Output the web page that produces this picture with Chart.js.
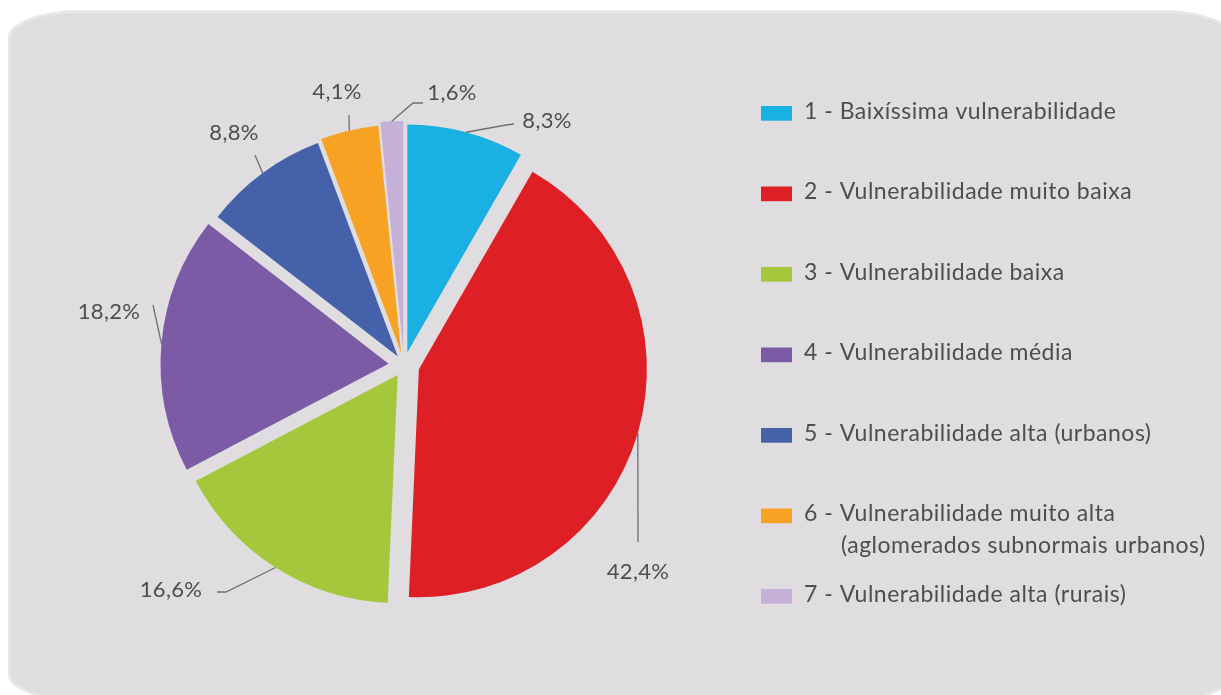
<!DOCTYPE html>
<html>
<head>
<meta charset="utf-8">
<script src="https://cdn.jsdelivr.net/npm/chart.js@4/dist/chart.umd.min.js"></script>
<style>
  html, body { margin: 0; padding: 0; background: #ffffff; width: 1221px; height: 695px; overflow: hidden; }
  #panel {
    position: absolute; left: 8px; top: 10px; width: 1226px; height: 692px;
    box-sizing: border-box; background: #dfdddf; border: 3px solid #e8e6e7;
    border-radius: 72px / 28px;
  }
  #wrap { position: absolute; left: 0; top: 0; width: 1221px; height: 695px; }
</style>
</head>
<body>
<div id="panel"></div>
<div id="wrap"><canvas id="pie"></canvas></div>
<script>
// Vulnerability classes (legend entries, multi-line where needed)
const categories = [
  '1 - Baixíssima vulnerabilidade',
  '2 - Vulnerabilidade muito baixa',
  '3 - Vulnerabilidade baixa',
  '4 - Vulnerabilidade média',
  '5 - Vulnerabilidade alta (urbanos)',
  ['6 - Vulnerabilidade muito alta', '(aglomerados subnormais urbanos)'],
  '7 - Vulnerabilidade alta (rurais)'
];

// Share of each class, in percent
const shares = [8.3, 42.4, 16.6, 18.2, 8.8, 4.1, 1.6];

// Slice colours
const colors = ['#1bb0e4', '#de1f26', '#a5c73b', '#7b5aa6', '#4561aa', '#f8a224', '#c5b1d7'];

// How far each slice is pulled out from the centre (px)
const explode = [12.9, 15.5, 11.8, 15.5, 10.4, 12.8, 16];

// Leader-line waypoints and label baseline position for each slice
const labelLayout = [
  { path: [[506, 125], [514, 124]], at: [547, 128] },
  { path: [[638, 542]],             at: [638, 579] },
  { path: [[226, 592], [217, 592]], at: [171, 597] },
  { path: [[153, 305]],             at: [109, 319] },
  { path: [[255, 155]],             at: [234, 140] },
  { path: [[349, 115]],             at: [337, 99] },
  { path: [[413, 103], [423, 103]], at: [452, 100] }
];

const FONT = 'Lato, "Open Sans", sans-serif';
const TEXT_COLOR = '#4e4e4e';
const LINE_COLOR = '#6f6f6f';

const fmtPct = v => v.toFixed(1).replace('.', ',') + '%';

// Draw each arc element pushed out along its bisector, keeping a common radius
const explodedSlices = {
  id: 'explodedSlices',
  beforeDatasetDraw(chart, args) {
    const ctx = chart.ctx;
    args.meta.data.forEach((arc, i) => {
      const mid = (arc.startAngle + arc.endAngle) / 2;
      ctx.save();
      ctx.translate(Math.cos(mid) * explode[i], Math.sin(mid) * explode[i]);
      arc.draw(ctx);
      ctx.restore();
    });
    return false;
  }
};

const sliceLabels = {
  id: 'sliceLabels',
  afterDatasetsDraw(chart) {
    const ctx = chart.ctx;
    const meta = chart.getDatasetMeta(0);
    ctx.save();
    ctx.strokeStyle = LINE_COLOR;
    ctx.lineWidth = 1.3;
    ctx.fillStyle = TEXT_COLOR;
    ctx.font = '22px ' + FONT;
    ctx.letterSpacing = '0.3px';
    ctx.textAlign = 'center';
    ctx.textBaseline = 'alphabetic';
    meta.data.forEach((arc, i) => {
      const mid = (arc.startAngle + arc.endAngle) / 2;
      const r = arc.outerRadius + explode[i];
      const ax = arc.x + Math.cos(mid) * r;
      const ay = arc.y + Math.sin(mid) * r;
      const lay = labelLayout[i];
      ctx.beginPath();
      ctx.moveTo(ax, ay);
      lay.path.forEach(p => ctx.lineTo(p[0], p[1]));
      ctx.stroke();
      ctx.fillText(fmtPct(shares[i]), lay.at[0], lay.at[1]);
    });
    ctx.restore();
  }
};

const sideLegend = {
  id: 'sideLegend',
  afterDraw(chart) {
    const ctx = chart.ctx;
    const x0 = 761, firstBaseline = 118.7, step = 80.5, lineGap = 32;
    ctx.save();
    ctx.font = '23px ' + FONT;
    ctx.letterSpacing = '0.5px';
    ctx.textAlign = 'left';
    ctx.textBaseline = 'alphabetic';
    categories.forEach((label, i) => {
      const base = firstBaseline + i * step;
      ctx.fillStyle = colors[i];
      ctx.fillRect(x0, base - 12.7, 31, 14.7);
      ctx.fillStyle = TEXT_COLOR;
      const lines = Array.isArray(label) ? label : [label];
      lines.forEach((ln, k) => {
        ctx.fillText(ln, k === 0 ? 804 : 841, base + k * lineGap);
      });
    });
    ctx.restore();
  }
};

new Chart(document.getElementById('pie'), {
  type: 'pie',
  data: {
    labels: categories,
    datasets: [{
      data: shares,
      backgroundColor: colors,
      borderWidth: 0,
      offset: 0,
      hoverOffset: 0
    }]
  },
  options: {
    responsive: true,
    maintainAspectRatio: false,
    animation: false,
    radius: 228,
    layout: { padding: { left: 0, right: 413, top: 35, bottom: 0 } },
    plugins: {
      legend: { display: false },
      tooltip: { enabled: false }
    },
    events: []
  },
  plugins: [explodedSlices, sliceLabels, sideLegend]
});
</script>
</body>
</html>
